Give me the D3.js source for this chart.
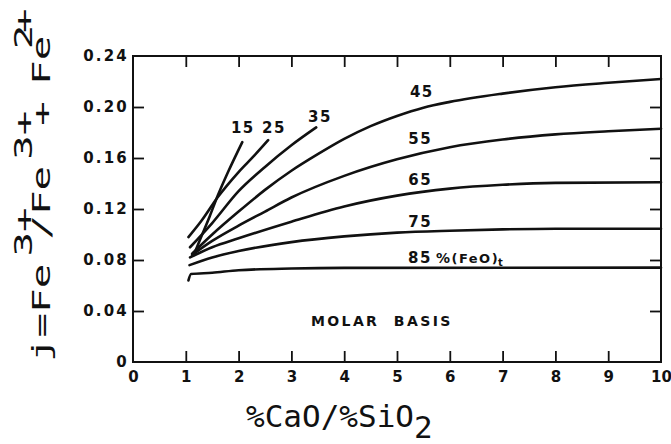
<!DOCTYPE html>
<html>
<head>
<meta charset="utf-8">
<script src="https://cdn.jsdelivr.net/npm/d3@7"></script>
<style>
  html, body { margin: 0; padding: 0; background: #fff; }
  svg { display: block; }
  .lettering { font-family: "DejaVu Sans", sans-serif; font-weight: bold; fill: #111; }
  .mono { font-family: "DejaVu Sans Mono", monospace; fill: #111; }
</style>
</head>
<body>
<svg id="chart" width="671" height="444"></svg>
<script>
// ---- data ----
const xTicks = [0, 1, 2, 3, 4, 5, 6, 7, 8, 9, 10];
const yTicks = [0, 0.04, 0.08, 0.12, 0.16, 0.20, 0.24];
const yTickLabels = ['0', '0.04', '0.08', '0.12', '0.16', '0.20', '0.24'];

// %(FeO)t curves: [CaO/SiO2, j]
const fe15 = [[1.15, 0.084], [1.3, 0.099], [1.45, 0.114], [1.6, 0.130], [1.8, 0.149], [2.07, 0.1725]];
const fe25 = [[1.05, 0.098], [1.3, 0.111], [1.6, 0.129], [2.0, 0.149], [2.3, 0.162], [2.56, 0.174]];
const fe35 = [[1.08, 0.090], [1.5, 0.109], [2.0, 0.134], [2.5, 0.153], [3.0, 0.170], [3.47, 0.184]];
const fe45 = [[1.12, 0.085], [1.5, 0.100], [2.0, 0.118], [2.5, 0.135], [3.0, 0.150], [3.5, 0.163], [4.0, 0.175],
              [4.5, 0.185], [5.0, 0.193], [5.5, 0.1995], [6.0, 0.204], [7.0, 0.2105], [8.0, 0.2155], [9.0, 0.219], [10.0, 0.222]];
const fe55 = [[1.12, 0.084], [1.5, 0.095], [2.0, 0.107], [2.5, 0.118], [3.0, 0.129], [4.0, 0.146], [5.0, 0.159],
              [6.0, 0.1685], [7.0, 0.1745], [8.0, 0.1785], [9.0, 0.181], [10.0, 0.183]];
const fe65 = [[1.08, 0.082], [1.5, 0.090], [2.0, 0.097], [3.0, 0.110], [4.0, 0.122], [5.0, 0.1305],
              [6.0, 0.136], [7.0, 0.139], [8.0, 0.1405], [10.0, 0.141]];
const fe75 = [[1.07, 0.076], [1.5, 0.082], [2.0, 0.087], [3.0, 0.094], [4.0, 0.0985], [5.0, 0.1015],
              [6.0, 0.103], [7.0, 0.104], [8.0, 0.1045], [10.0, 0.1045]];
const fe85 = [[1.05, 0.064], [1.1, 0.069], [1.5, 0.070], [2.0, 0.072], [3.0, 0.0733], [4.0, 0.0738], [10.0, 0.074]];

const curveNames = ['15', '25', '35', '45', '55', '65', '75', '85'];
const curvePoints = [fe15, fe25, fe35, fe45, fe55, fe65, fe75, fe85];
// label anchors in data units
const labelX = [2.08, 2.67, 3.54, 5.47, 5.44, 5.44, 5.44, 5.21];
const labelY = [0.1796, 0.1796, 0.188, 0.208, 0.171, 0.139, 0.106, 0.0776];

// ---- layout ----
const svg = d3.select('#chart');
const plotL = 133, plotR = 661, plotT = 56, plotB = 362;

const x = d3.scaleLinear().domain([0, 10]).range([plotL, plotR]);
const y = d3.scaleLinear().domain([0, 0.24]).range([plotB, plotT]);

const innerX = xTicks.slice(1, -1);
const innerY = yTicks.slice(1, -1);

// frame
svg.append('rect')
  .attr('x', plotL).attr('y', plotT)
  .attr('width', plotR - plotL).attr('height', plotB - plotT)
  .attr('fill', 'none').attr('stroke', '#111').attr('stroke-width', 2);

// inward ticks on all four sides
function styleTicks(g) {
  g.select('.domain').remove();
  g.selectAll('line').attr('stroke', '#111').attr('stroke-width', 1.8);
}
svg.append('g').attr('transform', `translate(0,${plotB})`)
  .call(d3.axisBottom(x).tickValues(innerX).tickSize(-11).tickFormat(''))
  .call(styleTicks);
svg.append('g').attr('transform', `translate(0,${plotT})`)
  .call(d3.axisTop(x).tickValues(innerX).tickSize(-11).tickFormat(''))
  .call(styleTicks);
svg.append('g').attr('transform', `translate(${plotL},0)`)
  .call(d3.axisLeft(y).tickValues(innerY).tickSize(-11).tickFormat(''))
  .call(styleTicks);
svg.append('g').attr('transform', `translate(${plotR},0)`)
  .call(d3.axisRight(y).tickValues(innerY).tickSize(-11).tickFormat(''))
  .call(styleTicks);

// tick labels
const xLab = svg.append('g').attr('transform', `translate(0,${plotB})`)
  .call(d3.axisBottom(x).tickValues(xTicks).tickSize(0).tickPadding(9).tickFormat(d3.format('d')));
xLab.select('.domain').remove();
xLab.attr('font-family', null).attr('font-size', null);
xLab.selectAll('text').attr('class', 'lettering').style('font-size', '15px');

const yLab = svg.append('g').attr('transform', `translate(${plotL},0)`)
  .call(d3.axisLeft(y).tickValues(yTicks).tickSize(0).tickPadding(4).tickFormat((d, i) => yTickLabels[i]));
yLab.select('.domain').remove();
yLab.attr('font-family', null).attr('font-size', null);
yLab.selectAll('text').attr('class', 'lettering')
  .style('font-size', '15px').style('letter-spacing', '2.2px');

// curves
const line = d3.line().x(d => x(d[0])).y(d => y(d[1])).curve(d3.curveMonotoneX);
svg.append('g').selectAll('path')
  .data(curvePoints)
  .join('path')
  .attr('d', line)
  .attr('fill', 'none')
  .attr('stroke', '#111')
  .attr('stroke-width', 2.6)
  .attr('stroke-linejoin', 'round')
  .attr('stroke-linecap', 'round');

// curve labels
curveNames.forEach((name, i) => {
  const t = svg.append('text')
    .attr('class', 'lettering')
    .attr('x', x(labelX[i]))
    .attr('y', y(labelY[i]))
    .style('font-size', '15px')
    .style('letter-spacing', '1.5px')
    .attr('text-anchor', name === '85' ? 'start' : 'middle');
  t.append('tspan').text(name);
  if (name === '85') {
    t.append('tspan').attr('dx', 4).style('font-size', '14px').text('%');
    t.append('tspan').style('font-size', '13px').style('letter-spacing', '1.5px').text('(FeO)');
    t.append('tspan').attr('dx', -1).attr('dy', 3).style('font-size', '10px').text('t');
  }
});

svg.append('text')
  .attr('class', 'lettering')
  .attr('x', x(3.37)).attr('y', y(0.028))
  .style('font-size', '14px')
  .style('letter-spacing', '2.4px')
  .style('white-space', 'pre')
  .text('MOLAR  BASIS');

// x axis title
const xt = svg.append('text')
  .attr('class', 'mono')
  .attr('x', 246).attr('y', 427)
  .style('font-size', '31px');
xt.append('tspan').text('%CaO/%SiO');
xt.append('tspan').attr('dy', 11).text('2');

// y axis title (stretched typewriter lettering, superscripts typed above)
const yt = svg.append('g')
  .attr('transform', 'translate(50,362) rotate(-90) scale(1.7,1)')
  .append('text')
  .attr('class', 'mono')
  .style('font-size', '24px');
const yParts = [
  ['j=Fe', 0, 0], ['3+', 62, -18], ['/Fe', 72, 0], ['3+', 119, -18],
  ['+', 139, 0], ['Fe', 163, 0], ['2', 184, -18], ['+', 193.5, -18]
];
yParts.forEach(p => {
  yt.append('tspan').attr('x', p[1]).attr('y', p[2]).text(p[0]);
});
</script>
</body>
</html>
